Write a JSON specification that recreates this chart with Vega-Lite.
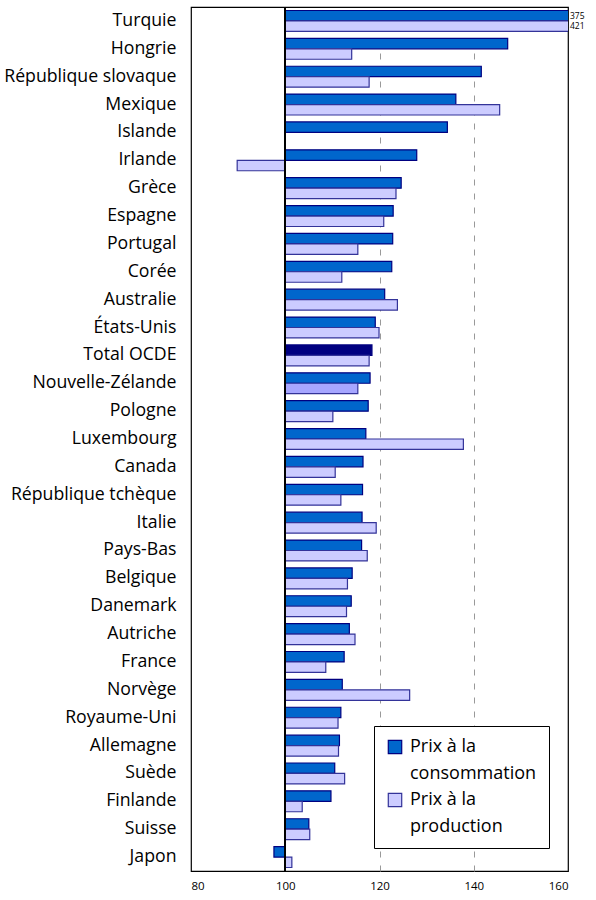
{
  "$schema": "https://vega.github.io/schema/vega-lite/v6.json",
  "width": 377,
  "height": 864,
  "padding": {"left": 3, "top": 6, "right": 27, "bottom": 0},
  "autosize": {"type": "pad"},
  "config": {
    "view": {"stroke": "#000", "strokeWidth": 1.2},
    "font": "Open Sans"
  },
  "data": {"values": [
    {"pays": "Turquie", "serie": "cons", "valeur": 375},
    {"pays": "Turquie", "serie": "prod", "valeur": 421},
    {"pays": "Hongrie", "serie": "cons", "valeur": 147.2},
    {"pays": "Hongrie", "serie": "prod", "valeur": 114.1},
    {"pays": "République slovaque", "serie": "cons", "valeur": 141.6},
    {"pays": "République slovaque", "serie": "prod", "valeur": 117.8},
    {"pays": "Mexique", "serie": "cons", "valeur": 136.2},
    {"pays": "Mexique", "serie": "prod", "valeur": 145.5},
    {"pays": "Islande", "serie": "cons", "valeur": 134.4},
    {"pays": "Irlande", "serie": "cons", "valeur": 127.9},
    {"pays": "Irlande", "serie": "prod", "valeur": 89.8},
    {"pays": "Grèce", "serie": "cons", "valeur": 124.6},
    {"pays": "Grèce", "serie": "prod", "valeur": 123.5},
    {"pays": "Espagne", "serie": "cons", "valeur": 122.9},
    {"pays": "Espagne", "serie": "prod", "valeur": 120.9},
    {"pays": "Portugal", "serie": "cons", "valeur": 122.8},
    {"pays": "Portugal", "serie": "prod", "valeur": 115.4},
    {"pays": "Corée", "serie": "cons", "valeur": 122.6},
    {"pays": "Corée", "serie": "prod", "valeur": 112.0},
    {"pays": "Australie", "serie": "cons", "valeur": 121.1},
    {"pays": "Australie", "serie": "prod", "valeur": 123.8},
    {"pays": "États-Unis", "serie": "cons", "valeur": 119.1},
    {"pays": "États-Unis", "serie": "prod", "valeur": 119.9},
    {"pays": "Total OCDE", "serie": "cons", "valeur": 118.4},
    {"pays": "Total OCDE", "serie": "prod", "valeur": 117.8},
    {"pays": "Nouvelle-Zélande", "serie": "cons", "valeur": 118.0},
    {"pays": "Nouvelle-Zélande", "serie": "prod", "valeur": 115.4},
    {"pays": "Pologne", "serie": "cons", "valeur": 117.6},
    {"pays": "Pologne", "serie": "prod", "valeur": 110.1},
    {"pays": "Luxembourg", "serie": "cons", "valeur": 117.1},
    {"pays": "Luxembourg", "serie": "prod", "valeur": 137.8},
    {"pays": "Canada", "serie": "cons", "valeur": 116.5},
    {"pays": "Canada", "serie": "prod", "valeur": 110.6},
    {"pays": "République tchèque", "serie": "cons", "valeur": 116.4},
    {"pays": "République tchèque", "serie": "prod", "valeur": 111.8},
    {"pays": "Italie", "serie": "cons", "valeur": 116.3},
    {"pays": "Italie", "serie": "prod", "valeur": 119.3},
    {"pays": "Pays-Bas", "serie": "cons", "valeur": 116.2},
    {"pays": "Pays-Bas", "serie": "prod", "valeur": 117.4},
    {"pays": "Belgique", "serie": "cons", "valeur": 114.2},
    {"pays": "Belgique", "serie": "prod", "valeur": 113.2},
    {"pays": "Danemark", "serie": "cons", "valeur": 114.0},
    {"pays": "Danemark", "serie": "prod", "valeur": 113.0},
    {"pays": "Autriche", "serie": "cons", "valeur": 113.6},
    {"pays": "Autriche", "serie": "prod", "valeur": 114.8},
    {"pays": "France", "serie": "cons", "valeur": 112.5},
    {"pays": "France", "serie": "prod", "valeur": 108.6},
    {"pays": "Norvège", "serie": "cons", "valeur": 112.1},
    {"pays": "Norvège", "serie": "prod", "valeur": 126.4},
    {"pays": "Royaume-Uni", "serie": "cons", "valeur": 111.8},
    {"pays": "Royaume-Uni", "serie": "prod", "valeur": 111.2},
    {"pays": "Allemagne", "serie": "cons", "valeur": 111.5},
    {"pays": "Allemagne", "serie": "prod", "valeur": 111.3},
    {"pays": "Suède", "serie": "cons", "valeur": 110.5},
    {"pays": "Suède", "serie": "prod", "valeur": 112.6},
    {"pays": "Finlande", "serie": "cons", "valeur": 109.7},
    {"pays": "Finlande", "serie": "prod", "valeur": 103.6},
    {"pays": "Suisse", "serie": "cons", "valeur": 105.0},
    {"pays": "Suisse", "serie": "prod", "valeur": 105.2},
    {"pays": "Japon", "serie": "cons", "valeur": 97.6},
    {"pays": "Japon", "serie": "prod", "valeur": 101.4}
  ]},
  "encoding": {
    "y": {
      "field": "pays", "type": "nominal", "sort": null,
      "scale": {"paddingInner": 0.25, "paddingOuter": 0.125},
      "axis": {"title": null, "ticks": false, "domain": false, "labelFontSize": 17.7, "labelColor": "#000", "labelPadding": 15, "labelLimit": 250}
    },
    "yOffset": {"field": "serie", "type": "nominal", "scale": {"paddingInner": 0, "paddingOuter": 0}}
  },
  "layer": [
    {
      "mark": {"type": "bar", "clip": true, "strokeWidth": 1.2},
      "encoding": {
        "x": {
          "field": "valeur", "type": "quantitative",
          "scale": {"domain": [80, 160], "nice": false, "zero": false},
          "axis": {"title": null, "values": [80, 100, 120, 140, 160], "ticks": false, "domain": false,
            "labelFontSize": 11.5, "labelColor": "#000", "labelPadding": 9,
            "grid": true, "gridColor": "#999", "gridDash": [6, 8], "gridWidth": 1,
            "gridOpacity": {"condition": {"test": "datum.value == 120 || datum.value == 140", "value": 1}, "value": 0}}
        },
        "x2": {"datum": 100},
        "fill": {
          "condition": [
            {"test": "datum.pays == 'Total OCDE' && datum.serie == 'cons'", "value": "#000080"},
            {"test": "datum.pays == 'Nouvelle-Zélande' && datum.serie == 'prod'", "value": "#A6A6FF"}
          ],
          "field": "serie", "type": "nominal",
          "scale": {"domain": ["cons", "prod"], "range": ["#0066CC", "#CCCCFF"]},
          "legend": {
            "title": null, "orient": "none", "legendX": 183, "legendY": 719,
            "strokeColor": "#000", "fillColor": "#fff", "padding": 12,
            "symbolType": "square", "symbolSize": 180, "symbolStrokeWidth": 1.2,
            "symbolStrokeColor": "#000080",
            "labelFontSize": 18, "labelColor": "#000", "labelLimit": 300, "labelOffset": 6,
            "labelExpr": "datum.label == 'cons' ? ['Prix à la', 'consommation'] : ['Prix à la', 'production']",
            "rowPadding": 7,
            "encode": {"labels": {"update": {"lineHeight": {"value": 27}}}}
          }
        },
        "stroke": {
          "field": "serie", "type": "nominal",
          "scale": {"domain": ["cons", "prod"], "range": ["#000080", "#333399"]},
          "legend": null
        }
      }
    },
    {
      "mark": {"type": "rule", "color": "#000", "strokeWidth": 1.5},
      "encoding": {"x": {"datum": 100}, "y": null, "yOffset": null}
    },
    {
      "transform": [{"filter": "datum.valeur > 160"}],
      "mark": {"type": "text", "align": "left", "dx": 2, "fontSize": 8.5, "color": "#000"},
      "encoding": {
        "x": {"datum": 160},
        "text": {"field": "valeur", "type": "quantitative"}
      }
    }
  ]
}
